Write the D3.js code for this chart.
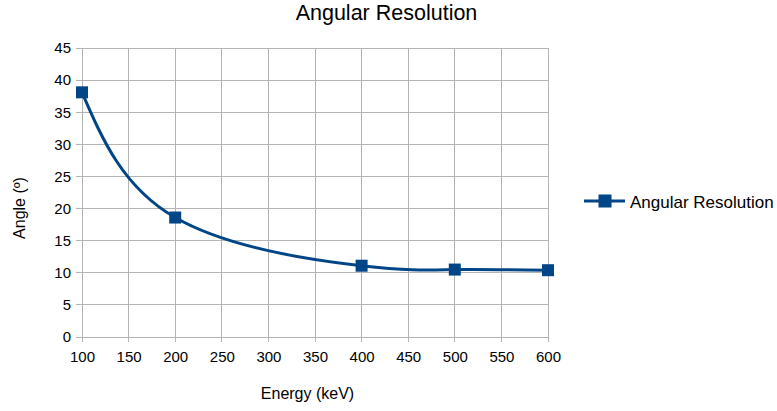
<!DOCTYPE html>
<html><head><meta charset="utf-8">
<script src="https://cdn.jsdelivr.net/npm/d3@7"></script>
<style>body{margin:0;background:#fff}svg{display:block;font-family:"Liberation Sans",Arial,sans-serif}</style>
</head><body><svg id="c" width="777" height="411"></svg>
<script>
const energies = [100, 200, 400, 500, 600];
const angles = [38.1, 18.6, 11.1, 10.5, 10.4];
const xTicks = [100,150,200,250,300,350,400,450,500,550,600];
const yTicks = [0,5,10,15,20,25,30,35,40,45];
const seriesName = "Angular Resolution";
const color = "#004586";

const svg = d3.select("#c");
const m = {l:82, r:229, t:48, b:74};
const W = 777, H = 411;
const x = d3.scaleLinear().domain([100,600]).range([m.l, W-m.r]);
const y = d3.scaleLinear().domain([0,45]).range([H-m.b, m.t]);

// grid
svg.append("g").selectAll("line").data(xTicks).join("line")
  .attr("x1",d=>x(d)).attr("x2",d=>x(d)).attr("y1",y(45)).attr("y2",y(0)+5)
  .attr("stroke","#b3b3b3").attr("stroke-width",1).attr("shape-rendering","crispEdges");
svg.append("g").selectAll("line").data(yTicks).join("line")
  .attr("y1",d=>y(d)).attr("y2",d=>y(d)).attr("x1",x(100)-6).attr("x2",x(600))
  .attr("stroke","#b3b3b3").attr("stroke-width",1).attr("shape-rendering","crispEdges");

// axes (labels only)
const xa = svg.append("g").attr("transform",`translate(0,${y(0)})`)
  .call(d3.axisBottom(x).tickValues(xTicks).tickSize(0).tickPadding(14));
const ya = svg.append("g").attr("transform",`translate(${x(100)},0)`)
  .call(d3.axisLeft(y).tickValues(yTicks).tickSize(0).tickPadding(11));
[xa,ya].forEach(a=>{a.select(".domain").remove();
  a.selectAll("text").attr("font-size",15).attr("fill","#000").attr("font-family","Liberation Sans, Arial, sans-serif");});

// line
const pts = energies.map((e,i)=>[e,angles[i]]);
svg.append("path").datum(pts)
  .attr("d", d3.line().x(d=>x(d[0])).y(d=>y(d[1])).curve(d3.curveNatural))
  .attr("fill","none").attr("stroke",color).attr("stroke-width",3);
const ms = 12;
svg.append("g").selectAll("rect").data(pts).join("rect")
  .attr("x",d=>x(d[0])-ms/2).attr("y",d=>y(d[1])-ms/2).attr("width",ms).attr("height",ms)
  .attr("fill",color);

// title and axis titles
svg.append("text").attr("x",386.5).attr("y",19.5).attr("text-anchor","middle")
  .attr("font-size",21.5).text("Angular Resolution");
svg.append("text").attr("x",307.5).attr("y",399).attr("text-anchor","middle")
  .attr("font-size",16).text("Energy (keV)");
svg.append("text").attr("transform","translate(25,208) rotate(-90)").attr("text-anchor","middle")
  .attr("font-size",16).text("Angle (º)");

// legend
const lg = svg.append("g").attr("transform","translate(584,201)");
lg.append("line").attr("x1",0).attr("x2",41).attr("stroke",color).attr("stroke-width",3);
lg.append("rect").attr("x",14.5).attr("y",-6.5).attr("width",13).attr("height",13).attr("fill",color);
lg.append("text").attr("x",46).attr("y",6.5).attr("font-size",17).text(seriesName);
</script></body></html>
